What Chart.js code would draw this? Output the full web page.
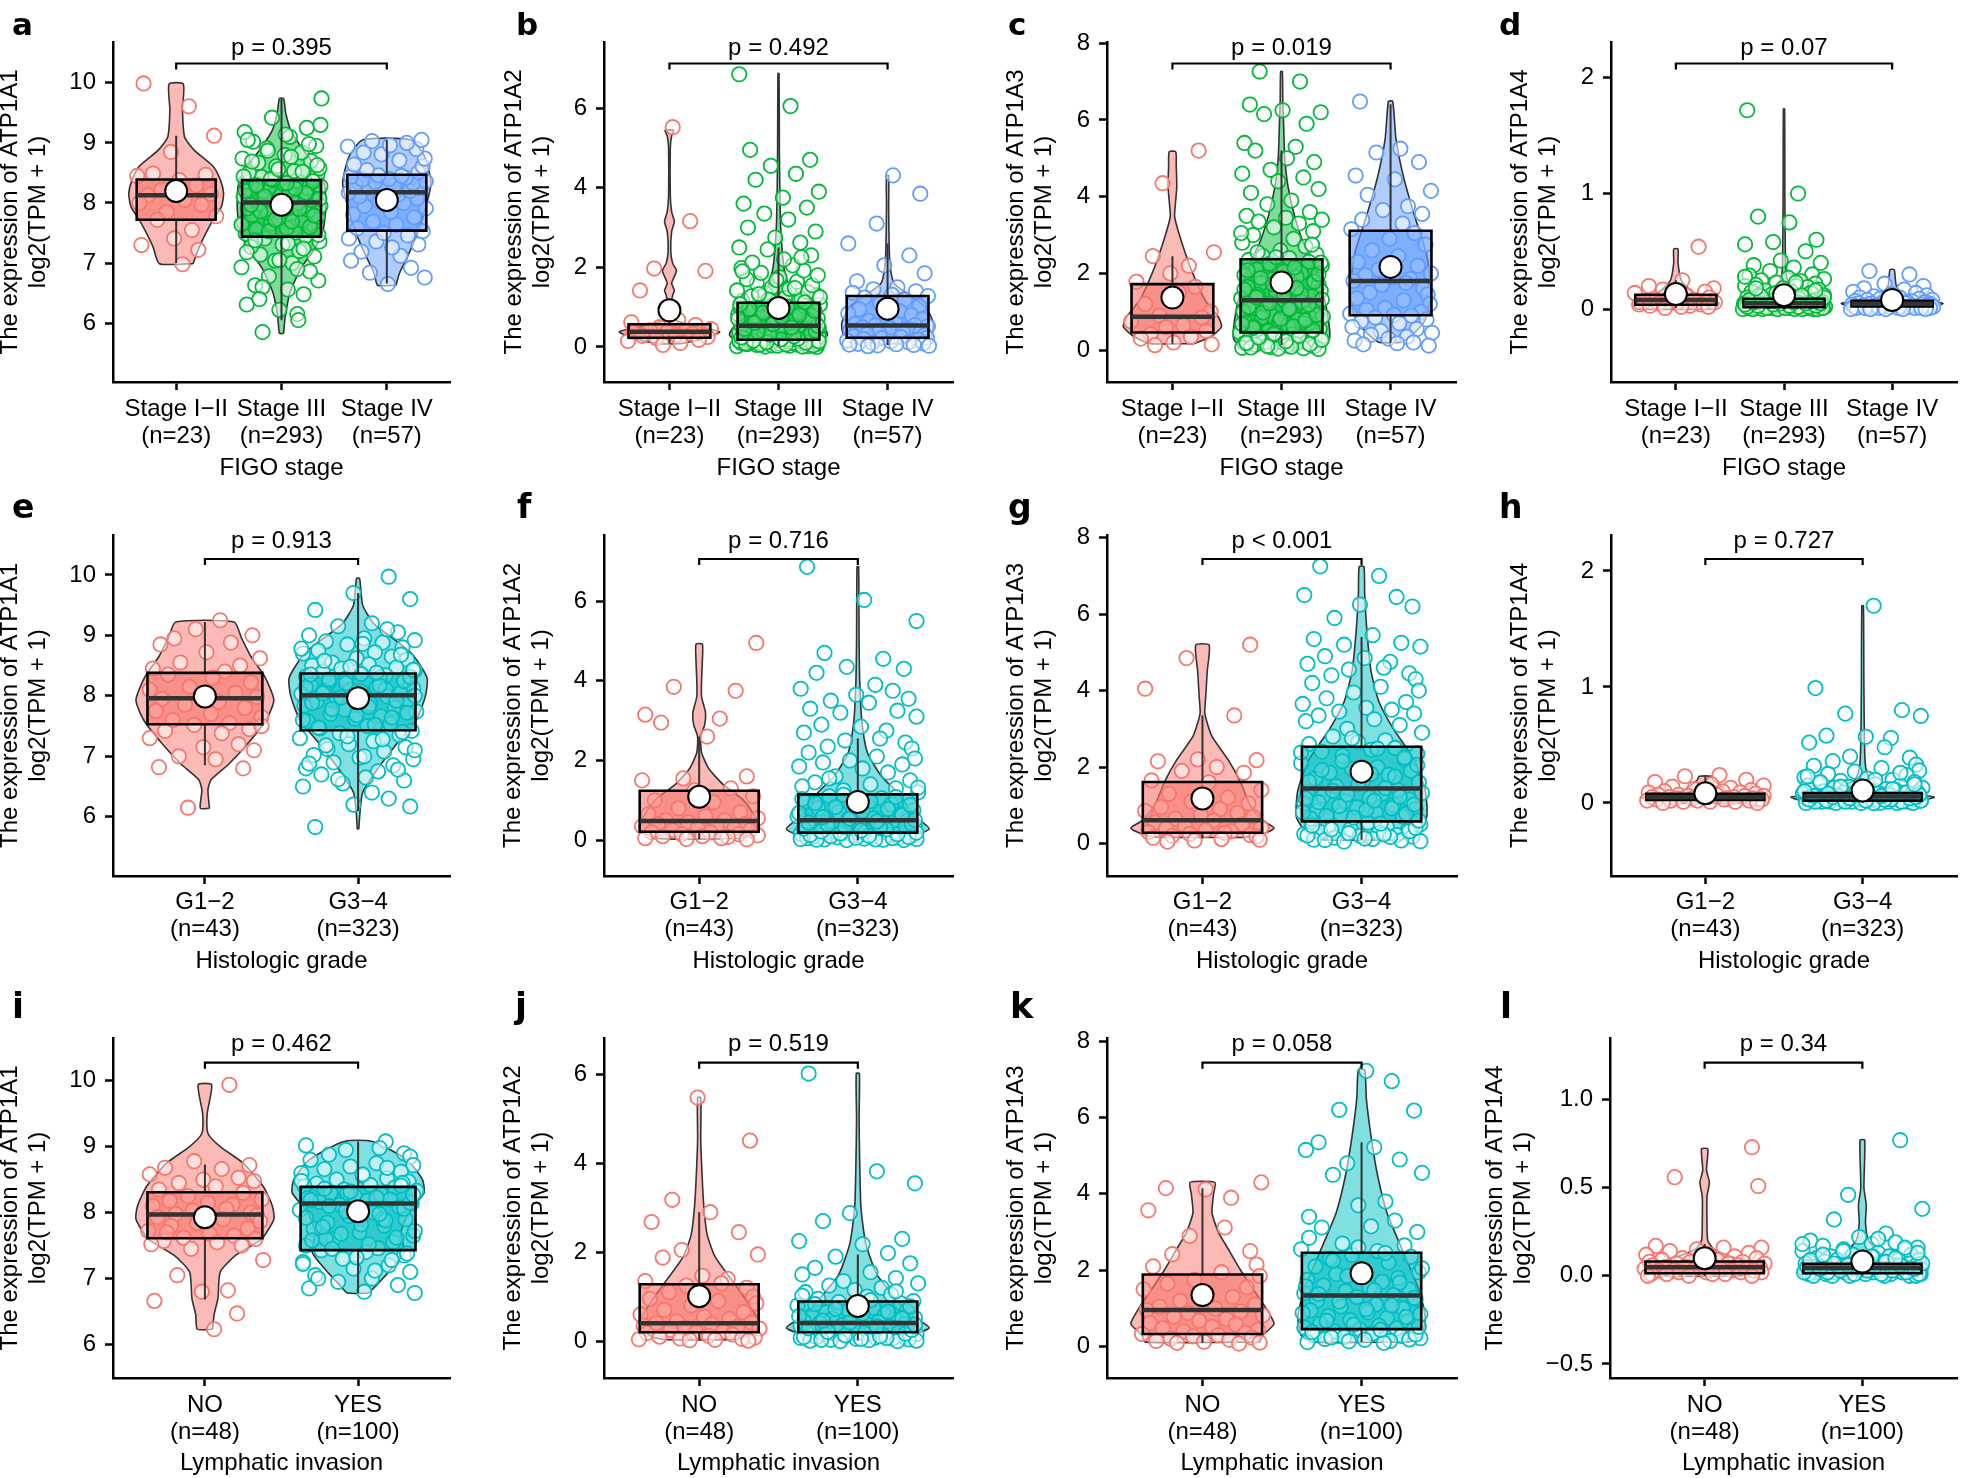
<!DOCTYPE html>
<html><head><meta charset="utf-8">
<script src="https://cdn.jsdelivr.net/npm/chart.js@4.4.1/dist/chart.umd.min.js"></script>
<style>
html,body{margin:0;padding:0;background:#fff;overflow:hidden;width:1961px;height:1478px;position:relative;}
canvas{position:absolute;}
</style></head><body>
<script>
// ---------------- DATA ----------------
const CATS_FIGO = [['Stage I\u2212II','(n=23)'],['Stage III','(n=293)'],['Stage IV','(n=57)']];
const CATS_GRADE = [['G1\u22122','(n=43)'],['G3\u22124','(n=323)']];
const CATS_LYMPH = [['NO','(n=48)'],['YES','(n=100)']];
const X_TITLES = ['FIGO stage','Histologic grade','Lymphatic invasion'];
const GENES = ['ATP1A1','ATP1A2','ATP1A3','ATP1A4'];
const LETTERS = ['a','b','c','d','e','f','g','h','i','j','k','l'];
const P_LABELS = ['p = 0.395','p = 0.492','p = 0.019','p = 0.07','p = 0.913','p = 0.716','p < 0.001','p = 0.727','p = 0.462','p = 0.519','p = 0.058','p = 0.34'];
const TICKS_A1 = [6,7,8,9,10];
const TICKS_A2 = [0,2,4,6];
const TICKS_A3 = [0,2,4,6,8];
const TICKS_A4 = [0,1,2];
const TICKS_L = [-0.5,0,0.5,1];
const TICK_LABELS_L = ['\u22120.5','0.0','0.5','1.0'];
const Y_MIN = [5.02,-0.88,-0.83,-0.63, 5.02,-0.9,-0.85,-0.63, 5.49,-0.83,-0.82,-0.58];
const Y_MAX = [10.68,7.66,8.03,2.31, 10.66,7.66,8.07,2.31, 10.65,6.82,8.08,1.35];

// box stats per group: [lower whisker, Q1, median, Q3, upper whisker]
const A_BOX = [[7.0,7.72,8.13,8.39,9.12],[6.05,7.44,8.01,8.38,9.74],[6.66,7.54,8.18,8.47,9.05]];
const A_MEAN = [8.2,7.97,8.05];
const B_BOX = [[0.08,0.23,0.38,0.57,0.95],[0.02,0.18,0.53,1.11,2.5],[0.05,0.23,0.54,1.28,2.6]];
const B_MEAN = [0.92,0.98,0.96];
const C_BOX = [[0.17,0.46,0.87,1.72,2.45],[0.13,0.46,1.3,2.37,5.2],[0.2,0.91,1.8,3.11,6.41]];
const C_MEAN = [1.37,1.76,2.17];
const D_BOX = [[0.01,0.038,0.08,0.124,0.25],[0.0,0.017,0.05,0.09,0.2],[0.0,0.023,0.046,0.072,0.145]];
const D_MEAN = [0.13,0.12,0.08];
const E_BOX = [[6.85,7.53,7.96,8.38,9.22],[6.1,7.43,8.01,8.37,9.7]];
const E_MEAN = [7.99,7.96];
const F_BOX = [[0.02,0.21,0.48,1.24,2.6],[0.0,0.19,0.5,1.15,2.55]];
const F_MEAN = [1.09,0.96];
const G_BOX = [[0.13,0.28,0.61,1.61,3.35],[0.1,0.58,1.44,2.53,5.4]];
const G_MEAN = [1.18,1.88];
const H_BOX = [[0.0,0.026,0.05,0.078,0.23],[0.0,0.02,0.055,0.086,0.19]];
const H_MEAN = [0.083,0.107];
const I_BOX = [[6.68,7.61,7.97,8.31,8.73],[6.78,7.43,8.14,8.39,9.08]];
const I_MEAN = [7.93,8.02];
const J_BOX = [[0.03,0.2,0.4,1.28,2.9],[0.02,0.2,0.41,0.89,1.95]];
const J_MEAN = [1.01,0.79];
const K_BOX = [[0.1,0.33,0.96,1.89,4.15],[0.12,0.46,1.34,2.46,5.35]];
const K_MEAN = [1.35,1.92];
const L_BOX = [[0.0,0.015,0.049,0.081,0.18],[0.0,0.015,0.045,0.068,0.15]];
const L_MEAN = [0.1,0.081];

// violin outlines per group: [value, half width]
const A_VIOLIN = [
 [[6.99,0.16],[7.27,0.22],[7.49,0.28],[7.72,0.35],[7.94,0.43],[8.16,0.45],[8.38,0.42],[8.61,0.35],[8.88,0.17],[9.1,0.08],[9.55,0.06],[9.98,0.068]],
 [[5.83,0.02],[6.1,0.035],[6.5,0.08],[6.9,0.18],[7.2,0.3],[7.5,0.39],[7.9,0.42],[8.3,0.41],[8.6,0.33],[8.9,0.2],[9.2,0.09],[9.5,0.04],[9.74,0.02]],
 [[6.63,0.087],[6.83,0.12],[7.16,0.21],[7.49,0.29],[7.94,0.37],[8.33,0.42],[8.77,0.36],[9.05,0.23]]];
const B_VIOLIN = [
 [[0.08,0.1],[0.2,0.3],[0.38,0.46],[0.55,0.2],[0.7,0.04],[1.0,0.015],[1.3,0.03],[1.42,0.045],[1.6,0.02],[1.8,0.05],[1.92,0.065],[2.1,0.03],[2.4,0.012],[2.9,0.02],[3.15,0.045],[3.4,0.02],[3.8,0.008],[5.0,0.008],[5.3,0.02],[5.44,0.04]],
 [[0.02,0.3],[0.3,0.45],[0.6,0.38],[1.0,0.22],[1.5,0.1],[2.0,0.05],[3.0,0.02],[4.0,0.012],[5.0,0.008],[6.87,0.005]],
 [[0.08,0.12],[0.3,0.4],[0.6,0.42],[1.0,0.35],[1.3,0.2],[1.6,0.06],[2.0,0.025],[2.5,0.015],[3.5,0.01],[4.31,0.01]]];
const C_VIOLIN = [
 [[0.17,0.2],[0.35,0.35],[0.61,0.45],[0.87,0.42],[1.3,0.3],[1.91,0.2],[2.43,0.13],[3.04,0.06],[3.48,0.02],[3.9,0.03],[4.26,0.04],[4.8,0.035],[5.17,0.03]],
 [[0.05,0.35],[0.3,0.44],[0.8,0.43],[1.5,0.38],[2.2,0.3],[2.8,0.2],[3.5,0.12],[4.26,0.06],[5.0,0.03],[5.8,0.02],[6.5,0.012],[7.26,0.008]],
 [[0.2,0.1],[0.4,0.2],[0.8,0.32],[1.5,0.37],[2.5,0.33],[3.5,0.22],[4.5,0.12],[5.5,0.05],[6.48,0.02]]];
const D_VIOLIN = [
 [[0.0,0.36],[0.05,0.4],[0.1,0.3],[0.15,0.15],[0.25,0.05],[0.4,0.02],[0.52,0.02]],
 [[0.0,0.4],[0.05,0.42],[0.1,0.25],[0.2,0.06],[0.3,0.02],[0.5,0.012],[1.0,0.008],[1.73,0.006]],
 [[0.0,0.3],[0.05,0.47],[0.1,0.15],[0.2,0.04],[0.34,0.02]]];
const E_VIOLIN = [
 [[6.14,0.03],[6.44,0.02],[6.61,0.04],[6.88,0.16],[7.21,0.28],[7.6,0.4],[7.93,0.45],[8.32,0.39],[8.65,0.3],[8.95,0.24],[9.22,0.19]],
 [[5.8,0.005],[6.0,0.01],[6.4,0.03],[6.8,0.13],[7.2,0.25],[7.6,0.38],[8.0,0.44],[8.3,0.45],[8.7,0.35],[9.0,0.2],[9.2,0.1],[9.5,0.03],[9.94,0.01]]];
const F_VIOLIN = [
 [[0.04,0.27],[0.3,0.38],[0.6,0.35],[1.0,0.28],[1.4,0.15],[1.8,0.06],[2.2,0.015],[2.6,0.01],[2.9,0.035],[3.2,0.04],[3.6,0.015],[4.0,0.015],[4.5,0.02],[4.92,0.02]],
 [[0.03,0.3],[0.28,0.45],[0.6,0.36],[1.2,0.25],[1.6,0.15],[2.2,0.06],[3.0,0.025],[4.0,0.012],[5.0,0.008],[6.86,0.005]]];
const G_VIOLIN = [
 [[0.16,0.25],[0.2,0.35],[0.4,0.45],[0.6,0.38],[1.0,0.3],[1.6,0.24],[2.2,0.16],[2.8,0.06],[3.4,0.015],[3.8,0.02],[4.5,0.03],[5.19,0.042]],
 [[0.1,0.25],[0.3,0.35],[0.7,0.41],[1.4,0.4],[2.2,0.33],[3.0,0.2],[3.7,0.11],[4.5,0.06],[5.5,0.035],[6.5,0.02],[7.24,0.015]]];
const H_VIOLIN = [
 [[0.0,0.25],[0.05,0.41],[0.1,0.15],[0.2,0.05],[0.23,0.04]],
 [[0.0,0.3],[0.05,0.455],[0.1,0.2],[0.2,0.05],[0.3,0.02],[0.5,0.012],[1.0,0.008],[1.7,0.005]]];
const I_VIOLIN = [
 [[6.23,0.05],[6.45,0.06],[6.7,0.085],[7.1,0.1],[7.35,0.2],[7.6,0.37],[7.9,0.45],[8.1,0.44],[8.4,0.38],[8.75,0.25],[9.0,0.1],[9.2,0.02],[9.5,0.015],[9.94,0.044]],
 [[6.78,0.07],[6.9,0.12],[7.1,0.2],[7.4,0.3],[7.7,0.28],[8.0,0.33],[8.3,0.43],[8.5,0.42],[8.8,0.32],[9.08,0.093]]];
const J_VIOLIN = [
 [[0.03,0.2],[0.1,0.3],[0.4,0.38],[0.9,0.3],[1.4,0.2],[1.9,0.1],[2.4,0.05],[3.0,0.03],[3.6,0.02],[4.5,0.01],[5.48,0.01]],
 [[0.02,0.15],[0.1,0.3],[0.3,0.45],[0.6,0.33],[1.0,0.23],[1.5,0.12],[2.2,0.05],[3.0,0.02],[4.0,0.012],[5.0,0.008],[6.02,0.01]]];
const K_VIOLIN = [
 [[0.12,0.36],[0.3,0.38],[0.6,0.45],[1.0,0.4],[1.5,0.32],[2.0,0.24],[2.5,0.17],[3.0,0.1],[3.5,0.06],[4.0,0.07],[4.3,0.078]],
 [[0.12,0.3],[0.3,0.38],[0.8,0.4],[1.5,0.36],[2.5,0.26],[3.5,0.16],[4.5,0.1],[5.5,0.06],[6.5,0.03],[7.24,0.02]]];
const L_VIOLIN = [
 [[0.0,0.25],[0.05,0.34],[0.1,0.2],[0.15,0.06],[0.2,0.02],[0.3,0.015],[0.45,0.015],[0.53,0.03],[0.6,0.012],[0.72,0.02]],
 [[0.0,0.3],[0.04,0.4],[0.1,0.15],[0.2,0.04],[0.3,0.02],[0.4,0.025],[0.5,0.01],[0.77,0.015]]];

// sample values (jittered points) per group
const A_POINTS = [
 [9.99,9.61,9.12,8.85,8.49,8.47,8.45,8.38,8.29,8.22,8.15,8.13,8.05,8.0,7.97,7.85,7.78,7.72,7.55,7.41,7.3,7.22,6.98],
 [5.85,6.15,6.22,6.31,6.48,6.56,6.63,6.71,6.78,6.86,6.93,7.0,7.04,7.11,7.14,7.2,7.27,7.31,7.36,7.41,7.45,7.49,7.51,7.56,7.58,7.63,7.66,7.67,7.71,7.74,7.77,7.8,7.83,7.84,7.88,7.91,7.92,7.95,7.99,8.0,8.02,8.05,8.06,8.09,8.1,8.13,8.15,8.16,8.19,8.21,8.22,8.25,8.27,8.28,8.31,8.32,8.34,8.35,8.37,8.38,8.41,8.43,8.47,8.5,8.53,8.58,8.61,8.67,8.7,8.74,8.8,8.84,8.91,8.95,9.02,9.1,9.18,9.25,9.42,9.74,
  6.6,6.9,7.05,7.18,7.24,7.33,7.38,7.47,7.53,7.6,7.64,7.69,7.72,7.79,7.86,7.9,7.97,8.03,8.07,8.11,8.17,8.2,8.24,8.29,8.33,8.36,8.4,8.44,8.52,8.56,8.63,8.69,8.77,8.87,8.98,9.05,9.14,9.3,6.4,6.05],
 [6.65,6.76,6.84,6.92,7.04,7.12,7.19,7.26,7.31,7.36,7.41,7.46,7.5,7.53,7.58,7.64,7.69,7.76,7.81,7.85,7.91,7.95,8.0,8.03,8.08,8.11,8.14,8.17,8.2,8.22,8.25,8.26,8.29,8.3,8.33,8.35,8.36,8.39,8.4,8.42,8.44,8.45,8.46,8.51,8.55,8.61,8.64,8.71,8.74,8.81,8.84,8.9,8.94,8.96,9.0,9.03,9.05]];
const B_POINTS = [
 [5.52,3.16,1.97,1.91,1.42,0.68,0.62,0.55,0.5,0.45,0.42,0.4,0.38,0.36,0.33,0.3,0.28,0.25,0.22,0.18,0.15,0.1,0.05],
 [0.0,0.01,0.02,0.02,0.03,0.04,0.05,0.05,0.06,0.07,0.08,0.08,0.09,0.1,0.1,0.11,0.12,0.13,0.13,0.14,0.15,0.15,0.16,0.17,0.18,0.19,0.2,0.22,0.23,0.25,0.26,0.28,0.29,0.3,0.32,0.33,0.35,0.36,0.37,0.39,0.4,0.42,0.43,0.44,0.46,0.47,0.48,0.5,0.51,0.52,0.54,0.56,0.58,0.6,0.62,0.65,0.67,0.7,0.72,0.74,0.77,0.79,0.82,0.84,0.87,0.89,0.92,0.94,0.97,0.99,1.02,1.04,1.06,1.08,1.1,1.13,1.16,1.2,1.23,1.27,1.3,1.35,1.38,1.42,1.46,1.5,1.55,1.6,1.64,1.7,1.75,1.8,1.86,1.92,1.98,2.05,2.12,2.2,2.3,2.45,2.5,2.62,2.75,2.9,3.0,3.2,3.35,3.5,3.6,3.75,3.9,4.2,4.35,4.55,4.7,4.95,6.05,6.85,
  0.01,0.03,0.04,0.06,0.07,0.09,0.11,0.12,0.14,0.16,0.19,0.21,0.24,0.27,0.31,0.34,0.38,0.41,0.45,0.49,0.53,0.57,0.61,0.66,0.71,0.76,0.81,0.86,0.91,0.96,1.01,1.07,1.12,1.19,1.25,1.33,1.48,1.68,1.9,2.25],
 [4.31,3.85,3.1,2.6,2.3,2.05,1.85,1.65,1.5,1.45,1.4,1.36,1.31,1.28,1.24,1.19,1.1,1.02,0.95,0.9,0.84,0.8,0.74,0.7,0.65,0.61,0.58,0.55,0.54,0.52,0.49,0.47,0.45,0.42,0.4,0.37,0.35,0.32,0.3,0.27,0.25,0.23,0.22,0.2,0.18,0.16,0.14,0.12,0.1,0.09,0.08,0.07,0.06,0.05,0.04,0.03,0.02]];
const C_POINTS = [
 [5.2,4.35,2.55,2.45,2.2,2.0,1.78,1.65,1.5,1.2,1.0,0.9,0.85,0.75,0.65,0.6,0.5,0.42,0.35,0.3,0.2,0.15,0.13],
 [7.26,7.0,6.4,6.25,6.2,6.15,5.9,5.4,5.3,5.2,5.0,4.9,4.7,4.6,4.5,4.4,4.2,4.1,3.9,3.8,3.6,3.5,3.45,3.4,3.35,3.3,3.2,3.1,3.0,2.9,2.8,2.7,2.6,2.5,2.45,2.4,2.35,2.3,2.25,2.2,2.1,2.05,2.0,1.95,1.9,1.85,1.8,1.75,1.7,1.65,1.6,1.55,1.5,1.45,1.4,1.35,1.28,1.25,1.2,1.15,1.1,1.05,1.0,0.95,0.9,0.88,0.85,0.8,0.75,0.72,0.7,0.65,0.6,0.55,0.5,0.48,0.45,0.42,0.4,0.38,0.35,0.32,0.3,0.28,0.25,0.22,0.2,0.18,0.16,0.14,0.12,0.1,0.08,0.06,0.05,0.04,
  0.03,0.07,0.09,0.11,0.15,0.19,0.23,0.27,0.33,0.37,0.43,0.52,0.58,0.62,0.68,0.78,0.82,0.92,0.98,1.08,1.12,1.18,1.22,1.32,1.38,1.42,1.48,1.58,1.62,1.72,1.78,1.88,1.98,2.08,2.15,2.28,2.42,2.55,2.75,3.05],
 [6.48,5.25,5.15,4.9,4.55,4.45,4.15,4.05,3.75,3.65,3.55,3.4,3.3,3.15,3.05,2.9,2.75,2.6,2.45,2.3,2.2,2.1,2.0,1.95,1.9,1.85,1.8,1.75,1.7,1.6,1.5,1.45,1.35,1.3,1.2,1.1,1.05,1.0,0.95,0.92,0.9,0.85,0.8,0.75,0.7,0.6,0.55,0.5,0.45,0.4,0.35,0.3,0.25,0.2,0.18,0.15,0.12]];
const D_POINTS = [
 [0.54,0.25,0.2,0.18,0.17,0.15,0.14,0.12,0.1,0.1,0.09,0.08,0.07,0.06,0.06,0.05,0.04,0.04,0.03,0.03,0.02,0.02,0.01],
 [1.72,1.0,0.8,0.75,0.6,0.58,0.56,0.5,0.42,0.4,0.38,0.36,0.33,0.3,0.29,0.27,0.26,0.25,0.24,0.23,0.22,0.21,0.2,0.2,0.19,0.18,0.17,0.16,0.15,0.15,0.14,0.13,0.12,0.12,0.11,0.1,0.1,0.09,0.09,0.08,0.08,0.07,0.07,0.06,0.06,0.06,0.05,0.05,0.05,0.04,0.04,0.04,0.04,0.03,0.03,0.03,0.03,0.02,0.02,0.02,0.02,0.02,0.01,0.01,0.01,0.01,0.01,0.01,0.0,0.0,0.0,0.0,0.0,0.0,
  0.0,0.0,0.01,0.01,0.01,0.02,0.02,0.02,0.03,0.03,0.03,0.04,0.04,0.05,0.05,0.05,0.06,0.06,0.07,0.07,0.08,0.09,0.1,0.11,0.12,0.14,0.16,0.18,0.23,0.28],
 [0.33,0.3,0.22,0.2,0.18,0.17,0.15,0.14,0.13,0.12,0.11,0.1,0.1,0.09,0.09,0.08,0.08,0.07,0.07,0.07,0.06,0.06,0.06,0.05,0.05,0.05,0.05,0.04,0.04,0.04,0.04,0.04,0.03,0.03,0.03,0.03,0.03,0.03,0.02,0.02,0.02,0.02,0.02,0.02,0.02,0.01,0.01,0.01,0.01,0.01,0.01,0.01,0.0,0.0,0.0,0.0,0.0]];
const E_POINTS = [
 [9.25,9.1,9.0,8.95,8.88,8.85,8.72,8.62,8.55,8.5,8.45,8.4,8.35,8.3,8.22,8.15,8.1,8.05,8.02,7.98,7.95,7.9,7.85,7.8,7.75,7.7,7.65,7.6,7.55,7.52,7.45,7.42,7.38,7.3,7.2,7.15,7.1,7.0,6.95,6.82,6.8,6.15,7.5],
 [9.97,9.7,9.6,9.42,9.2,9.15,9.05,9.0,8.95,8.92,8.9,8.88,8.85,8.8,8.75,8.72,8.7,8.65,8.62,8.6,8.55,8.52,8.5,8.47,8.45,8.42,8.4,8.36,8.34,8.32,8.3,8.28,8.25,8.22,8.2,8.18,8.15,8.12,8.1,8.08,8.05,8.03,8.02,7.99,7.96,7.93,7.9,7.87,7.84,7.8,7.77,7.74,7.7,7.66,7.62,7.58,7.54,7.5,7.46,7.42,7.38,7.35,7.3,7.25,7.2,7.15,7.12,7.08,7.02,6.98,6.95,6.9,6.85,6.8,6.75,6.7,6.65,6.6,6.55,6.5,6.3,6.2,6.17,5.83,
  6.4,6.62,6.78,6.88,7.0,7.1,7.18,7.28,7.33,7.4,7.48,7.52,7.6,7.64,7.68,7.72,7.78,7.82,7.88,7.92,7.97,8.0,8.04,8.07,8.11,8.14,8.17,8.21,8.24,8.27,8.31,8.35,8.38,8.43,8.48,8.58,8.68,8.78,8.86,9.1]];
const F_POINTS = [
 [4.95,3.85,3.75,3.15,3.05,2.95,2.6,1.6,1.55,1.5,1.3,1.25,1.1,1.0,0.95,0.8,0.7,0.65,0.6,0.55,0.5,0.5,0.45,0.4,0.4,0.35,0.35,0.3,0.3,0.25,0.25,0.2,0.2,0.15,0.15,0.12,0.1,0.1,0.08,0.05,0.05,0.03,0.02],
 [6.86,6.03,5.5,4.7,4.55,4.35,4.3,4.2,3.9,3.8,3.75,3.65,3.55,3.5,3.45,3.3,3.25,3.2,3.1,2.9,2.85,2.75,2.7,2.55,2.5,2.45,2.35,2.3,2.2,2.1,2.05,2.0,1.95,1.9,1.85,1.8,1.7,1.6,1.5,1.45,1.4,1.35,1.3,1.25,1.2,1.1,1.05,1.0,0.95,0.9,0.85,0.8,0.75,0.7,0.65,0.6,0.55,0.52,0.48,0.45,0.42,0.4,0.37,0.35,0.32,0.3,0.28,0.25,0.23,0.21,0.2,0.18,0.16,0.14,0.12,0.1,0.09,0.08,0.07,0.06,0.05,0.04,0.03,0.02,0.01,0.0,
  0.0,0.01,0.02,0.03,0.05,0.06,0.08,0.1,0.11,0.13,0.15,0.17,0.19,0.22,0.24,0.27,0.29,0.31,0.34,0.36,0.39,0.41,0.44,0.47,0.5,0.54,0.58,0.63,0.68,0.73,0.78,0.83,0.88,0.93,0.98,1.03,1.08,1.14,1.32,1.55]];
const G_POINTS = [
 [5.2,4.85,4.05,3.35,2.2,2.18,2.15,2.0,1.9,1.85,1.65,1.6,1.4,1.3,1.2,1.1,1.05,0.95,0.9,0.85,0.8,0.75,0.7,0.65,0.6,0.55,0.5,0.45,0.42,0.4,0.35,0.32,0.3,0.28,0.25,0.22,0.2,0.18,0.15,0.12,0.1,0.08,0.05],
 [7.25,7.0,6.5,6.45,6.25,6.2,5.9,5.45,5.35,5.25,5.2,5.15,4.9,4.85,4.75,4.7,4.6,4.55,4.45,4.4,4.3,4.2,4.1,4.0,3.95,3.8,3.7,3.65,3.55,3.5,3.45,3.4,3.35,3.25,3.2,3.1,3.0,2.9,2.8,2.7,2.65,2.6,2.5,2.45,2.4,2.35,2.3,2.2,2.1,2.0,1.95,1.9,1.85,1.8,1.7,1.65,1.6,1.5,1.4,1.35,1.3,1.25,1.2,1.15,1.1,1.05,1.0,0.95,0.9,0.85,0.8,0.75,0.7,0.65,0.55,0.5,0.45,0.42,0.38,0.35,0.3,0.28,0.25,0.22,0.2,0.18,0.15,0.12,0.1,0.08,0.05,
  0.06,0.09,0.13,0.17,0.21,0.24,0.27,0.32,0.37,0.41,0.47,0.52,0.6,0.68,0.72,0.78,0.82,0.88,0.92,0.98,1.02,1.08,1.12,1.18,1.22,1.28,1.32,1.38,1.45,1.55,1.62,1.75,1.82,1.92,2.05,2.15,2.25,2.38,2.48,2.75]];
const H_POINTS = [
 [0.24,0.23,0.2,0.18,0.16,0.15,0.14,0.13,0.12,0.11,0.1,0.1,0.09,0.09,0.08,0.08,0.07,0.07,0.07,0.06,0.06,0.06,0.05,0.05,0.05,0.05,0.04,0.04,0.04,0.04,0.03,0.03,0.03,0.03,0.02,0.02,0.02,0.02,0.01,0.01,0.01,0.0,0.0],
 [1.7,0.99,0.8,0.77,0.75,0.58,0.57,0.56,0.52,0.48,0.4,0.39,0.36,0.33,0.32,0.3,0.28,0.27,0.25,0.24,0.22,0.21,0.2,0.19,0.18,0.17,0.16,0.15,0.15,0.14,0.13,0.13,0.12,0.12,0.11,0.11,0.1,0.1,0.09,0.09,0.09,0.08,0.08,0.08,0.07,0.07,0.07,0.06,0.06,0.06,0.06,0.05,0.05,0.05,0.05,0.04,0.04,0.04,0.04,0.03,0.03,0.03,0.03,0.03,0.02,0.02,0.02,0.02,0.02,0.01,0.01,0.01,0.01,0.01,0.0,0.0,0.0,0.0,0.0,
  0.0,0.0,0.01,0.01,0.01,0.02,0.02,0.02,0.03,0.03,0.03,0.04,0.04,0.05,0.05,0.06,0.06,0.07,0.07,0.08,0.09,0.1,0.11,0.12,0.14,0.16,0.18,0.2,0.23,0.26]];
const I_POINTS = [
 [9.94,8.78,8.72,8.68,8.66,8.58,8.53,8.5,8.48,8.45,8.4,8.35,8.3,8.25,8.2,8.18,8.15,8.12,8.1,8.06,8.03,8.0,7.98,7.96,7.93,7.9,7.87,7.84,7.8,7.76,7.72,7.68,7.65,7.62,7.6,7.57,7.55,7.52,7.5,7.45,7.28,7.05,6.82,6.8,6.66,6.47,6.23,7.7],
 [9.08,9.02,8.98,8.95,8.9,8.88,8.85,8.8,8.75,8.72,8.7,8.66,8.62,8.6,8.56,8.52,8.5,8.47,8.44,8.42,8.4,8.38,8.35,8.33,8.3,8.28,8.25,8.22,8.2,8.18,8.16,8.14,8.12,8.08,8.04,8.0,7.95,7.9,7.85,7.8,7.75,7.7,7.65,7.6,7.55,7.5,7.46,7.43,7.4,7.35,7.3,7.25,7.2,7.15,7.1,7.05,7.0,6.95,6.9,6.85,6.8,6.78,7.6,7.9,8.3,8.45,
  7.0,7.12,7.22,7.28,7.32,7.38,7.45,7.52,7.58,7.62,7.68,7.72,7.78,7.82,7.88,7.92,7.98,8.02,8.06,8.1,8.15,8.19,8.23,8.27,8.32,8.36,8.41,8.48,8.58,8.68]];
const J_POINTS = [
 [5.48,4.51,3.18,2.9,2.68,2.45,2.05,1.95,1.88,1.47,1.4,1.35,1.3,1.25,1.2,1.1,1.0,0.95,0.9,0.85,0.8,0.7,0.65,0.6,0.55,0.5,0.45,0.42,0.4,0.38,0.35,0.32,0.3,0.28,0.25,0.22,0.2,0.18,0.15,0.12,0.1,0.08,0.06,0.05,0.04,0.03,0.02,0.01],
 [6.02,3.82,3.55,2.88,2.7,2.3,2.25,2.18,1.98,1.9,1.75,1.65,1.55,1.5,1.42,1.35,1.3,1.25,1.2,1.15,1.1,1.05,1.0,0.95,0.9,0.88,0.85,0.8,0.75,0.7,0.68,0.65,0.6,0.58,0.55,0.52,0.5,0.48,0.45,0.43,0.41,0.4,0.38,0.36,0.34,0.32,0.3,0.28,0.26,0.24,0.22,0.2,0.19,0.18,0.16,0.15,0.14,0.12,0.1,0.09,0.08,0.07,0.06,0.05,0.04,0.03,0.02,0.01,0.0,0.0,
  0.01,0.03,0.05,0.07,0.09,0.11,0.13,0.17,0.21,0.25,0.29,0.33,0.37,0.42,0.46,0.51,0.56,0.62,0.66,0.72,0.78,0.83,0.92,1.02,1.12]];
const K_POINTS = [
 [4.3,4.15,4.12,3.9,3.57,3.12,2.9,2.5,2.42,2.15,2.1,1.95,1.85,1.75,1.65,1.55,1.5,1.4,1.3,1.2,1.1,1.05,1.0,0.96,0.92,0.88,0.82,0.78,0.72,0.68,0.62,0.58,0.52,0.48,0.44,0.4,0.36,0.33,0.3,0.27,0.24,0.21,0.18,0.15,0.13,0.11,0.1,0.08],
 [7.22,6.95,6.2,6.18,5.35,5.22,5.15,4.9,4.8,4.55,4.5,3.8,3.7,3.4,3.3,3.15,3.12,3.0,2.7,2.65,2.55,2.5,2.4,2.35,2.3,2.2,2.1,2.0,1.95,1.9,1.8,1.75,1.7,1.6,1.55,1.5,1.45,1.4,1.35,1.3,1.25,1.2,1.1,1.05,1.0,0.95,0.9,0.85,0.8,0.75,0.7,0.65,0.6,0.55,0.5,0.48,0.45,0.42,0.4,0.35,0.3,0.28,0.25,0.22,0.2,0.18,0.15,0.12,0.1,
  0.14,0.19,0.24,0.32,0.38,0.44,0.52,0.58,0.68,0.78,0.88,0.98,1.08,1.18,1.28,1.38,1.48,1.58,1.68,1.85,2.05,2.25,2.45,2.6,2.85]];
const L_POINTS = [
 [0.73,0.56,0.51,0.17,0.16,0.16,0.15,0.14,0.13,0.12,0.12,0.11,0.1,0.1,0.09,0.09,0.08,0.08,0.08,0.07,0.07,0.07,0.06,0.06,0.06,0.05,0.05,0.05,0.05,0.04,0.04,0.04,0.04,0.03,0.03,0.03,0.03,0.02,0.02,0.02,0.02,0.01,0.01,0.01,0.01,0.0,0.0,0.0],
 [0.77,0.46,0.38,0.32,0.24,0.22,0.2,0.19,0.18,0.17,0.16,0.15,0.15,0.14,0.13,0.12,0.12,0.11,0.11,0.1,0.1,0.09,0.09,0.09,0.08,0.08,0.08,0.07,0.07,0.07,0.07,0.06,0.06,0.06,0.06,0.05,0.05,0.05,0.05,0.05,0.04,0.04,0.04,0.04,0.04,0.03,0.03,0.03,0.03,0.03,0.02,0.02,0.02,0.02,0.02,0.02,0.01,0.01,0.01,0.01,0.01,0.0,0.0,0.0,0.0,
  0.0,0.0,0.01,0.01,0.01,0.02,0.02,0.02,0.03,0.03,0.03,0.04,0.04,0.05,0.05,0.06,0.06,0.07,0.07,0.08,0.08,0.09,0.1,0.11,0.12,0.13,0.14,0.16,0.18,0.21]];

// ---------------- STYLE / LAYOUT ----------------
const JITTER = [-0.31,0.12,0.36,-0.05,-0.22,0.28,-0.37,0.03,0.19,-0.14,0.33,-0.27,0.08,-0.35,0.24,-0.09,0.38,-0.18,0.15,-0.02,-0.33,0.21,0.06,-0.25,0.35,-0.12,0.27,-0.38,0.1,-0.06,0.31,-0.2,0.17,-0.29,0.01,0.36,-0.16,0.23,-0.34,0.13,-0.24,0.05,0.3,-0.1,-0.36,0.2,-0.03,0.34,-0.28,0.09,-0.13,0.26,-0.32,0.04,0.37,-0.21,0.16,-0.07,0.29,-0.26,0.11,-0.36,0.22,-0.01,0.32,-0.17,0.07,-0.3,0.25,-0.11,0.37,-0.23,0.02,0.18,-0.34,0.14,-0.08,0.3,-0.19,0.34];
const COLORS3 = ['#F8766D','#00BA38','#619CFF'];
const COLORS2 = ['#F8766D','#00BFC4'];
const FONT = '"Liberation Sans", Arial, Helvetica, sans-serif';
const COLX = [0,490,990,1470];
const ROWY = [0,490,980];
const CHART_TOP = [42,535,1038];
const CHART_BOTTOM = [382,876,1378];
const XTITLE_Y = [468,961,1463];
const TICK_PAD = [6,4.5,6];
const BRACKET_OFF = [21.5,24,24.7];
const LETTER_BASE = [35,518,1018];
const LETTER_SIZE = [31,33,35];
const CHART_LEFT = [113,604,1107,1611, 113,604,1107,1611, 113,604,1107,1610];
const CHART_RIGHT = [450,953,1456,1960, 450,953,1457,1960, 450,953,1457,1958];
const YTITLE_X = [10,514,1016,1520, 10,513,1016,1520, 10,513,1016,1495];
const LETTER_X = [12,516,1008,1499, 12,517,1008,1499, 12,515,1010,1500];
const CW = 520;
const LH_T = 28;

const PANEL_DATA = [
 [A_POINTS,A_BOX,A_MEAN,A_VIOLIN],[B_POINTS,B_BOX,B_MEAN,B_VIOLIN],[C_POINTS,C_BOX,C_MEAN,C_VIOLIN],[D_POINTS,D_BOX,D_MEAN,D_VIOLIN],
 [E_POINTS,E_BOX,E_MEAN,E_VIOLIN],[F_POINTS,F_BOX,F_MEAN,F_VIOLIN],[G_POINTS,G_BOX,G_MEAN,G_VIOLIN],[H_POINTS,H_BOX,H_MEAN,H_VIOLIN],
 [I_POINTS,I_BOX,I_MEAN,I_VIOLIN],[J_POINTS,J_BOX,J_MEAN,J_VIOLIN],[K_POINTS,K_BOX,K_MEAN,K_VIOLIN],[L_POINTS,L_BOX,L_MEAN,L_VIOLIN]];
const Y_TICKS = [TICKS_A1,TICKS_A2,TICKS_A3,TICKS_A4, TICKS_A1,TICKS_A2,TICKS_A3,TICKS_A4, TICKS_A1,TICKS_A2,TICKS_A3,TICKS_L];

function rgba(hex,a){const n=parseInt(hex.slice(1),16);return 'rgba('+((n>>16)&255)+','+((n>>8)&255)+','+(n&255)+','+a+')';}

function makeDatasets(pIdx, colors){
  const [pts, box, mean, vio] = PANEL_DATA[pIdx];
  const ds = [];
  const BW = 0.375;
  pts.forEach((vals, g) => {
    const cx = g + 1, col = colors[g];
    const prof = vio[g];
    const poly = [];
    prof.forEach(([y,w]) => poly.push({x: cx + w, y}));
    for (let k = prof.length - 1; k >= 0; k--) poly.push({x: cx - prof[k][1], y: prof[k][0]});
    poly.push({x: cx + prof[0][1], y: prof[0][0]});
    ds.push({type:'line', data: poly, fill:'shape', backgroundColor: rgba(col,0.5), borderColor:'#333333', borderWidth:1.6, pointRadius:0, tension:0.2, order:50});
    ds.push({type:'scatter', data: vals.map((y,i) => ({x: cx + JITTER[(i + g*17 + pIdx*7) % JITTER.length], y})), pointRadius:7.2, borderWidth:1.8, borderColor: col, backgroundColor:'rgba(255,255,255,0.55)', order:40});
    const [lo,q1,md,q3,hi] = box[g];
    ds.push({type:'line', data:[{x:cx,y:lo},{x:cx,y:q1},{x:cx,y:null},{x:cx,y:q3},{x:cx,y:hi}], borderColor:'#333333', borderWidth:2, pointRadius:0, fill:false, spanGaps:false, order:35});
    ds.push({type:'line', data:[{x:cx-BW,y:q1},{x:cx+BW,y:q1},{x:cx+BW,y:q3},{x:cx-BW,y:q3},{x:cx-BW,y:q1}], fill:'shape', backgroundColor: rgba(col,0.62), borderColor:'#000', borderWidth:2.6, pointRadius:0, tension:0, borderCapStyle:'square', order:30});
    ds.push({type:'line', data:[{x:cx-BW,y:md},{x:cx+BW,y:md}], borderColor:'#333333', borderWidth:4.5, pointRadius:0, fill:false, order:25});
    ds.push({type:'scatter', data:[{x:cx, y:mean[g]}], pointRadius:11, borderWidth:2, borderColor:'#000', backgroundColor:'#fff', order:10});
  });
  return ds;
}

for (let pIdx = 0; pIdx < 12; pIdx++) {
  const row = Math.floor(pIdx/4), col = pIdx % 4;
  const cats = row === 0 ? CATS_FIGO : (row === 1 ? CATS_GRADE : CATS_LYMPH);
  const colors = row === 0 ? COLORS3 : COLORS2;
  const CL = COLX[col] - 20, CT = ROWY[row];
  const CH = XTITLE_Y[row] + LH_T/2 - CT;
  const padL = YTITLE_X[pIdx] - CL - LH_T/2;
  const yW = CHART_LEFT[pIdx] - CL - padL;
  const padR = CL + CW - CHART_RIGHT[pIdx];
  const padT = CHART_TOP[row] - CT;
  const xH = CH - (CHART_BOTTOM[row] - CT);
  const yt = Y_TICKS[pIdx];
  const ylab = pIdx === 11 ? TICK_LABELS_L : yt.map(v => String(v));

  const cv = document.createElement('canvas');
  cv.width = CW; cv.height = CH;
  cv.style.left = CL + 'px'; cv.style.top = CT + 'px';
  cv.style.width = CW + 'px'; cv.style.height = CH + 'px';
  document.body.appendChild(cv);

  const annot = {
    id: 'annot' + pIdx,
    afterDatasetsDraw(chart) {
      const {ctx, chartArea, scales} = chart;
      const x1 = scales.x.getPixelForValue(1), x2 = scales.x.getPixelForValue(cats.length);
      const yb = chartArea.top + BRACKET_OFF[row];
      ctx.save();
      ctx.strokeStyle = '#000'; ctx.lineWidth = 2.2;
      ctx.beginPath();
      ctx.moveTo(x1, yb + 6); ctx.lineTo(x1, yb); ctx.lineTo(x2, yb); ctx.lineTo(x2, yb + 6);
      ctx.stroke();
      ctx.fillStyle = '#000';
      ctx.font = '24px ' + FONT;
      ctx.textAlign = 'center'; ctx.textBaseline = 'middle';
      ctx.fillText(P_LABELS[pIdx], (x1 + x2)/2, chartArea.top + 6);
      ctx.font = 'bold ' + LETTER_SIZE[row] + 'px "DejaVu Sans", ' + FONT;
      ctx.textAlign = 'left'; ctx.textBaseline = 'alphabetic';
      ctx.fillText(LETTERS[pIdx], LETTER_X[pIdx] - CL, LETTER_BASE[row] - CT);
      ctx.restore();
    }
  };

  new Chart(cv, {
    type: 'scatter',
    data: {datasets: makeDatasets(pIdx, colors)},
    options: {
      responsive: false, animation: false, devicePixelRatio: 1, events: [],
      layout: {padding: {left: padL, right: padR, top: padT, bottom: 0}},
      plugins: {legend: {display: false}, tooltip: {enabled: false}},
      scales: {
        x: {
          type: 'linear', min: 0.4, max: cats.length + 0.6,
          afterBuildTicks: s => { s.ticks = cats.map((c,i) => ({value: i + 1})); },
          afterFit: s => { s.height = xH; },
          ticks: {callback: v => cats[Math.round(v) - 1], font: {family: FONT, size: 24, lineHeight: 1.125}, color: '#000', padding: TICK_PAD[row], maxRotation: 0, autoSkip: false},
          grid: {drawOnChartArea: false, drawTicks: true, tickLength: 8, tickColor: '#000', tickWidth: 2.5, color: '#000'},
          border: {display: true, color: '#000', width: 2.5},
          title: {display: true, text: X_TITLES[row], font: {family: FONT, size: 24, lineHeight: LH_T/24}, color: '#000', padding: 0}
        },
        y: {
          type: 'linear', min: Y_MIN[pIdx], max: Y_MAX[pIdx],
          afterBuildTicks: s => { s.ticks = yt.map(v => ({value: v})); },
          afterFit: s => { s.width = yW; },
          ticks: {callback: (v, i) => ylab[i], font: {family: FONT, size: 24}, color: '#000', padding: 9, autoSkip: false},
          grid: {drawOnChartArea: false, drawTicks: true, tickLength: 8, tickColor: '#000', tickWidth: 2.5, color: '#000'},
          border: {display: true, color: '#000', width: 2.5},
          title: {display: true, text: ['The expression of ' + GENES[col], 'log2(TPM + 1)'], font: {family: FONT, size: 24, lineHeight: LH_T/24}, color: '#000', padding: 0}
        }
      }
    },
    plugins: [annot]
  });
}
</script>
</body></html>
